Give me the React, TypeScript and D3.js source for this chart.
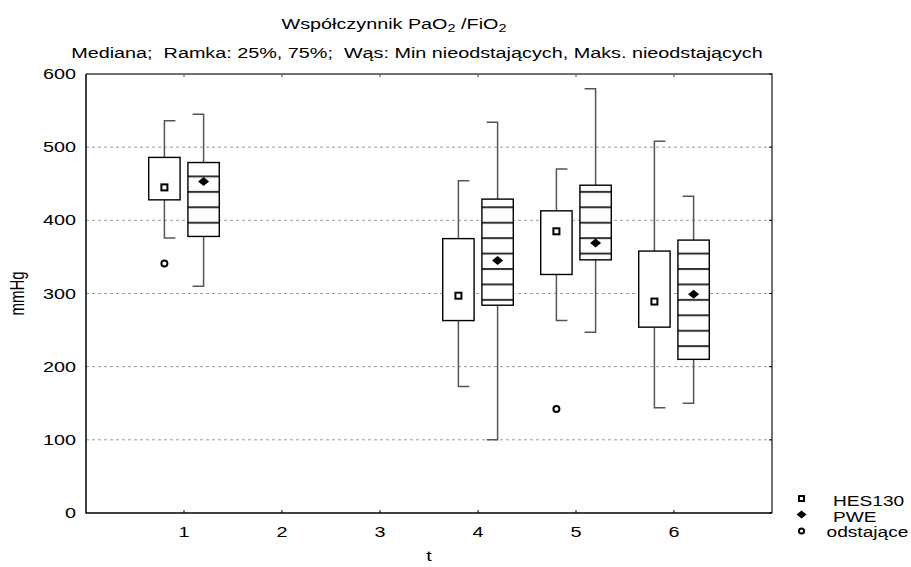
import React from "react";
import * as d3 from "d3";

// Time points with data, and the quartile summaries of each group
const times = [1, 4, 5, 6];

const hesMin = [376, 173, 263, 144];
const hesQ1 = [428, 263, 326, 254];
const hesMedian = [445, 297, 385, 289];
const hesQ3 = [486, 375, 413, 358];
const hesMax = [536, 454, 470, 508];

const pweMin = [310, 100, 247, 150];
const pweQ1 = [378, 284, 346, 210];
const pweMedian = [453, 345, 369, 299];
const pweQ3 = [479, 429, 448, 373];
const pweMax = [545, 534, 580, 433];

// Outliers (HES130 group)
const outlierT = [1, 5];
const outlierV = [341, 142];

const xTicks = [1, 2, 3, 4, 5, 6];
const yTicks = [0, 100, 200, 300, 400, 500, 600];

const W = 911;
const H = 567;
const FONT = "'Liberation Sans', Arial, sans-serif";
const FS = 15;
const SX = 1.32;

const x = d3.scaleLinear().domain([0, 7]).range([86, 772]);
const y = d3.scaleLinear().domain([0, 600]).range([513, 74]);

function SText(props: {
  x: number;
  y: number;
  anchor?: "start" | "middle" | "end";
  children: React.ReactNode;
  size?: number;
}) {
  return (
    <text
      transform={`translate(${props.x},${props.y}) scale(${SX},1)`}
      textAnchor={props.anchor || "start"}
      fontFamily={FONT}
      fontSize={props.size || FS}
      fill="#000"
      style={{ whiteSpace: "pre" }}
    >
      {props.children}
    </text>
  );
}

// diamond path with given half width / half height
const diamond = (hw: number, hh: number) => `M0,${-hh}L${hw},0L0,${hh}L${-hw},0Z`;

const OFFSET = 0.2; // group offset in t units
const BOXW = 0.32; // box width in t units
const CAP = 11; // whisker cap length in px

function Box(props: {
  t: number;
  side: -1 | 1;
  min: number;
  q1: number;
  med: number;
  q3: number;
  max: number;
  hatched: boolean;
}) {
  const cx = x(props.t + props.side * OFFSET);
  const half = (x(BOXW) - x(0)) / 2;
  const capDir = props.side === -1 ? 1 : -1;
  const whisk = "#555";
  return (
    <g>
      <path
        d={`M${cx + capDir * CAP},${y(props.max)}H${cx}V${y(props.q3)}`}
        fill="none"
        stroke={whisk}
        strokeWidth={1.5}
      />
      <path
        d={`M${cx + capDir * CAP},${y(props.min)}H${cx}V${y(props.q1)}`}
        fill="none"
        stroke={whisk}
        strokeWidth={1.5}
      />
      <rect
        x={cx - half}
        y={y(props.q3)}
        width={half * 2}
        height={y(props.q1) - y(props.q3)}
        fill={props.hatched ? "url(#hatch)" : "#fff"}
        stroke="#000"
        strokeWidth={1.4}
      />
      {props.hatched ? (
        <path d={diamond(5.5, 4.5)} transform={`translate(${cx},${y(props.med)})`} fill="#000" />
      ) : (
        <rect
          x={cx - 3}
          y={y(props.med) - 3}
          width={6}
          height={6}
          fill="#fff"
          stroke="#000"
          strokeWidth={2}
        />
      )}
    </g>
  );
}

export default function App() {
  const left = x(0);
  const right = x(7);
  const top = y(600);
  const bottom = y(0);
  return (
    <svg width={W} height={H} style={{ position: "absolute", left: 0, top: 0, background: "#fff" }}>
      <defs>
        <pattern id="hatch" patternUnits="userSpaceOnUse" width={20} height={15.43} y={206.3}>
          <rect width={20} height={15.43} fill="#fff" />
          <rect y={0} width={20} height={2} fill="#333" />
        </pattern>
      </defs>

      {/* titles */}
      <text
        transform={`translate(394,29) scale(${SX},1)`}
        textAnchor="middle"
        fontFamily={FONT}
        fontSize={FS}
        style={{ whiteSpace: "pre" }}
      >
        Współczynnik PaO
        <tspan fontSize={11} dy={3}>2</tspan>
        <tspan dy={-3}> /FiO</tspan>
        <tspan fontSize={11} dy={3}>2</tspan>
      </text>
      <SText x={417} y={58} anchor="middle">
        {"Mediana;  Ramka: 25%, 75%;  Wąs: Min nieodstających, Maks. nieodstających"}
      </SText>

      {/* grid */}
      {yTicks
        .filter((v) => v > 0 && v < 600)
        .map((v) => (
          <line
            key={v}
            x1={left}
            x2={right}
            y1={y(v)}
            y2={y(v)}
            stroke="#999"
            strokeDasharray="3,3"
          />
        ))}

      {/* boxes */}
      {times.map((t, i) => (
        <g key={t}>
          <Box
            t={t}
            side={-1}
            min={hesMin[i]}
            q1={hesQ1[i]}
            med={hesMedian[i]}
            q3={hesQ3[i]}
            max={hesMax[i]}
            hatched={false}
          />
          <Box
            t={t}
            side={1}
            min={pweMin[i]}
            q1={pweQ1[i]}
            med={pweMedian[i]}
            q3={pweQ3[i]}
            max={pweMax[i]}
            hatched={true}
          />
        </g>
      ))}

      {outlierT.map((t, i) => (
        <circle
          key={i}
          cx={x(t - OFFSET)}
          cy={y(outlierV[i])}
          r={3}
          fill="#fff"
          stroke="#000"
          strokeWidth={2}
        />
      ))}

      {/* frame */}
      <path d={`M${left},${top}H${right}V${bottom}`} fill="none" stroke="#444" strokeWidth={1.5} />
      <path d={`M${left},${top}V${bottom}H${right}`} fill="none" stroke="#000" strokeWidth={1.5} />

      {/* ticks (inward) */}
      {xTicks.map((t) => (
        <g key={t}>
          <line x1={x(t)} x2={x(t)} y1={bottom} y2={bottom - 3} stroke="#000" />
          <line x1={x(t)} x2={x(t)} y1={top} y2={top + 3} stroke="#444" />
          <SText x={x(t)} y={bottom + 24} anchor="middle">
            {t}
          </SText>
        </g>
      ))}
      {yTicks.map((v) => (
        <g key={v}>
          <line x1={right} x2={right - 3} y1={y(v)} y2={y(v)} stroke="#000" />
          <SText x={left - 10} y={y(v) + 5} anchor="end">
            {v}
          </SText>
        </g>
      ))}

      {/* axis titles */}
      <SText x={(left + right) / 2} y={561} anchor="middle">
        t
      </SText>
      <text
        transform={`translate(24,${(top + bottom) / 2}) rotate(-90) scale(1,${SX})`}
        textAnchor="middle"
        fontFamily={FONT}
        fontSize={FS}
      >
        mmHg
      </text>

      {/* legend */}
      <rect x={799} y={496} width={5} height={5} fill="#fff" stroke="#000" strokeWidth={2} />
      <SText x={833} y={506} size={14.5}>HES130</SText>
      <path d={diamond(5, 4)} transform="translate(801.5,514.5)" fill="#000" />
      <SText x={833} y={521.5} size={14.5}>PWE</SText>
      <circle cx={801.5} cy={531} r={2.6} fill="#fff" stroke="#000" strokeWidth={2} />
      <SText x={826.5} y={537} size={14.5}>odstające</SText>
    </svg>
  );
}
